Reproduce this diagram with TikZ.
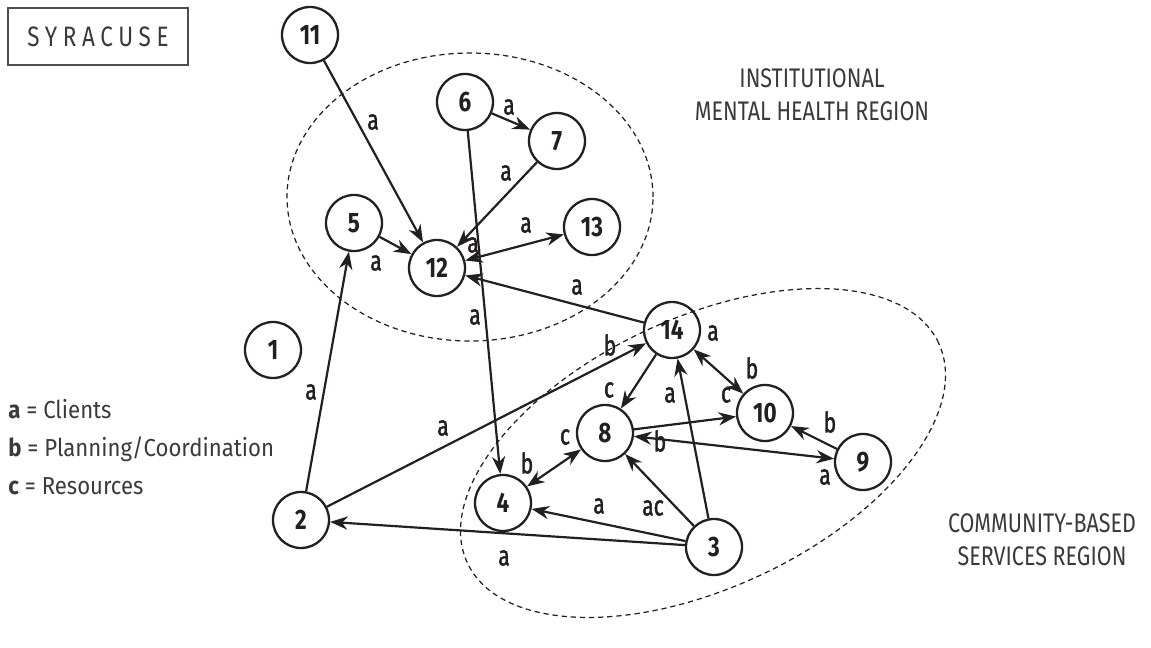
\documentclass[tikz,border=0pt]{standalone}
\usepackage{fontspec}
\setmainfont{Fira Sans}[FakeStretch=0.8]
\newfontfamily\spacedfont{Fira Sans}[FakeStretch=0.8,LetterSpace=20]
\newfontfamily\keyfont{Fira Sans}[FakeStretch=0.9]
\newfontfamily\tiefont{Fira Sans}[FakeStretch=0.75,FakeBold=1.6]
\usetikzlibrary{arrows.meta}
\definecolor{ink}{HTML}{231F20}
\definecolor{greytext}{HTML}{3A3A3A}

\begin{document}
\begin{tikzpicture}
  [
    actor/.style={circle, draw=ink, line width=1.3pt, minimum size=1.12cm, inner sep=0pt,
      font=\fontsize{16}{16}\selectfont\bfseries, text=ink},
    tie/.style={line width=1.25pt, draw=ink, -{Stealth[length=10pt,width=7.5pt]}},
    mutual/.style={tie, {Stealth[length=10pt,width=7.5pt]}-{Stealth[length=10pt,width=7.5pt]}},
    lbl/.style={font=\tiefont\fontsize{16}{16}\selectfont, text=ink, inner sep=0pt},
    region/.style={draw=ink, line width=0.7pt, dash pattern=on 3pt off 2.2pt},
    caption/.style={font=\fontsize{15.3}{19}\selectfont, text=greytext, align=center}
  ]
  \useasboundingbox (0,0) rectangle (23.02,-12.96);

  % regions
  \draw[region] (9.40,-3.94) ellipse [x radius=3.66, y radius=2.88];
  \draw[region, rotate around={25:(14.06,-9.06)}] (14.06,-9.06) ellipse [x radius=5.2, y radius=2.7];

  % actors
  \node[actor] (n1) at (5.46,-7.00) {1};
  \node[actor] (n2) at (6.02,-10.40) {2};
  \node[actor] (n3) at (14.28,-10.94) {3};
  \node[actor] (n4) at (10.06,-10.06) {4};
  \node[actor] (n5) at (7.08,-4.46) {5};
  \node[actor] (n6) at (9.30,-2.04) {6};
  \node[actor] (n7) at (11.14,-2.82) {7};
  \node[actor] (n8) at (12.10,-8.66) {8};
  \node[actor] (n9) at (17.26,-9.24) {9};
  \node[actor] (n10) at (15.30,-8.26) {10};
  \node[actor] (n11) at (6.20,-0.70) {11};
  \node[actor] (n12) at (8.74,-5.36) {12};
  \node[actor] (n13) at (11.84,-4.54) {13};
  \node[actor] (n14) at (13.44,-6.60) {14};

  % ties
  \foreach \s/\t in {n11/n12, n6/n7, n7/n12, n5/n12, n6/n4, n14/n12, n2/n5, n2/n14,
                     n3/n2, n3/n4, n3/n8, n3/n14, n14/n8, n8/n10, n9/n10}
    \draw[tie] (\s) -- (\t);
  \foreach \s/\t in {n13/n12, n14/n10, n8/n9, n8/n4}
    \draw[mutual] (\s) -- (\t);

  % tie labels
  \foreach \x/\y/\t [count=\i] in {7.46/-2.44/a, 10.18/-2.14/a, 10.12/-3.46/a, 7.52/-5.26/a,
      10.52/-4.50/a, 9.46/-4.90/a, 9.50/-6.34/a, 11.54/-5.74/a, 6.22/-7.84/a,
      8.86/-8.56/a, 12.20/-6.90/b, 10.08/-11.16/a, 11.98/-10.12/a, 13.06/-10.16/ac,
      13.40/-7.90/a, 12.18/-7.80/c, 14.26/-6.66/a, 15.04/-7.36/b, 14.52/-7.90/c,
      13.20/-8.82/b, 16.50/-9.54/a, 16.60/-8.44/b, 11.30/-8.74/c, 10.54/-9.26/b}
    \node[lbl] (l\i) at (\x,\y) {\t};

  % texts
  \node[draw=ink!80, line width=0.6pt, minimum width=3.6cm, minimum height=1.14cm,
    font=\spacedfont\fontsize{16}{16}\selectfont, text=greytext] (city) at (1.96,-0.73) {SYRACUSE};
  \node[caption] (inst) at (16.24,-1.90) {INSTITUTIONAL\\MENTAL HEALTH REGION};
  \node[caption] (comm) at (20.84,-10.80) {COMMUNITY-BASED\\SERVICES REGION};
  \foreach \k/\v/\y [count=\i] in {a/Clients/-8.36, b/Planning\slash Coordination/-9.12, c/Resources/-9.88}
    \node[anchor=base west, inner sep=0pt, text=greytext,
      font=\keyfont\fontsize{14}{14}\selectfont] (key\i) at (0.16,\y) {\textbf{\k} = \v};
\end{tikzpicture}
\end{document}
